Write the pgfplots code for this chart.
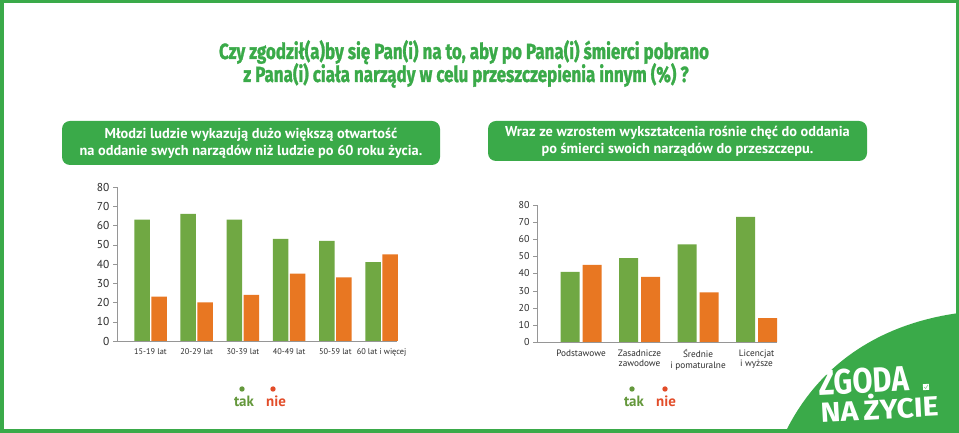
\documentclass[border=0pt]{standalone}
\usepackage{fontspec}
\setmainfont{PT Sans}
\newfontfamily\titlefont{Fira Sans}[BoldFeatures={FakeBold=1.5}]
\newfontfamily\logofont{Fira Sans}
\usepackage{pgfplots}
\pgfplotsset{compat=1.18}

\definecolor{zgreen}{RGB}{58,170,73}
\definecolor{bargreen}{RGB}{112,168,67}
\definecolor{barorange}{RGB}{232,119,34}
\definecolor{takgreen}{RGB}{100,152,60}
\definecolor{nieorange}{RGB}{226,76,40}
\definecolor{axisgray}{RGB}{150,150,150}
\definecolor{ticktext}{RGB}{45,45,45}

\pgfplotsset{
  zbar/.style={
    scale only axis, ybar, ymin=0, ymax=80, ytick={0,10,...,80},
    axis x line*=bottom, axis y line*=left,
    axis line style={draw=axisgray,-},
    tick align=outside, major tick length=4bp,
    ytick style={draw=axisgray}, xtick style={draw=none},
    /pgf/number format/assume math mode=true,
    yticklabel style={text=ticktext},
    xticklabel style={text=ticktext, align=center},
    enlarge x limits=false, clip=false,
  }
}

\begin{document}
\begin{tikzpicture}[x=1bp,y=1bp]
\useasboundingbox (0,0) rectangle (959,433);
\fill[white] (0,0) rectangle (959,433);

% logo swoosh
\fill[zgreen] (785,0) .. controls (815,62) and (872,108) .. (959,120) -- (959,0) -- cycle;
% frame
\draw[zgreen, line width=3.5bp] (1.75,1.75) rectangle (957.25,431.25);

% title
\node[anchor=base, text=zgreen, font=\titlefont\bfseries\fontsize{22}{26}\selectfont]
  at (464,374) {\scalebox{0.775}[1]{Czy zgodził(a)by się Pan(i) na to, aby po Pana(i) śmierci pobrano}};
\node[anchor=base, text=zgreen, font=\titlefont\bfseries\fontsize{22}{26}\selectfont]
  at (466,351) {\scalebox{0.775}[1]{z Pana(i) ciała narządy w celu przeszczepienia innym (\%) ?}};

% banners
\fill[zgreen, rounded corners=8bp] (62,268) rectangle (440,312);
\fill[zgreen, rounded corners=8bp] (488,272) rectangle (867,312);
\node[text=white, align=center, font=\bfseries\fontsize{14.4}{17}\selectfont] at (251,290)
  {Młodzi ludzie wykazują dużo większą otwartość\\na oddanie swych narządów niż ludzie po 60 roku życia.};
\node[text=white, align=center, font=\bfseries\fontsize{14.4}{17}\selectfont] at (677.5,292)
  {Wraz ze wzrostem wykształcenia rośnie chęć do oddania\\po śmierci swoich narządów do przeszczepu.};

% left chart: age groups
\begin{axis}[zbar, at={(117bp,92bp)}, anchor=south west, width=280bp, height=154bp,
  xmin=-0.725, xmax=5.335, bar width=15.5bp, xtick={0,...,5},
  xticklabels={15-19 lat,20-29 lat,30-39 lat,40-49 lat,50-59 lat,60 lat i więcej},
  yticklabel style={font=\fontsize{11.5}{11.5}\selectfont},
  xticklabel style={font=\fontsize{8.3}{10}\selectfont}]
\addplot[fill=bargreen, draw=none, bar shift=-8.5bp] coordinates {(0,63)(1,66)(2,63)(3,53)(4,52)(5,41)};
\addplot[fill=barorange, draw=none, bar shift=8.5bp] coordinates {(0,23)(1,20)(2,24)(3,35)(4,33)(5,45)};
\end{axis}

% right chart: education
\begin{axis}[zbar, at={(537bp,91bp)}, anchor=south west, width=240bp, height=137bp,
  xmin=-0.752, xmax=3.35, bar width=19bp, xtick={0,...,3},
  xticklabels={Podstawowe,{Zasadnicze\\zawodowe},{Średnie\\i pomaturalne},{Licencjat\\i wyższe}},
  yticklabel style={font=\fontsize{10}{10}\selectfont},
  xticklabel style={font=\fontsize{9.3}{10.5}\selectfont}]
\addplot[fill=bargreen, draw=none, bar shift=-11bp] coordinates {(0,41)(1,49)(2,57)(3,73)};
\addplot[fill=barorange, draw=none, bar shift=11bp] coordinates {(0,45)(1,38)(2,29)(3,14)};
\end{axis}

% legends
\fill[takgreen] (242,44) circle (2.7);
\node[anchor=base, text=takgreen, font=\bfseries\fontsize{15}{15}\selectfont] at (244,26) {tak};
\fill[nieorange] (273,44) circle (2.7);
\node[anchor=base, text=nieorange, font=\bfseries\fontsize{15}{15}\selectfont] at (276,26) {nie};
\fill[takgreen] (632,44) circle (2.7);
\node[anchor=base, text=takgreen, font=\bfseries\fontsize{15}{15}\selectfont] at (634,26) {tak};
\fill[nieorange] (665,44) circle (2.7);
\node[anchor=base, text=nieorange, font=\bfseries\fontsize{15}{15}\selectfont] at (666,26) {nie};

% logo text
\node[anchor=south west, inner sep=0, text=white, rotate=3, font=\logofont\bfseries\fontsize{36}{36}\selectfont]
  at (821,10) {\vbox{\offinterlineskip
    \hbox{\resizebox{90bp}{25bp}{ZGODA}}\kern0.5bp
    \hbox{\resizebox{118bp}{26bp}{NA\,ŻYCIE}}}};
\begin{scope}[shift={(926,46)}, rotate=3]
  \fill[white] (-3,-3) rectangle (3,3);
  \draw[zgreen!60, line width=0.6bp] (-1.8,0) -- (-0.5,-1.6) -- (2,2);
\end{scope}
\end{tikzpicture}
\end{document}
